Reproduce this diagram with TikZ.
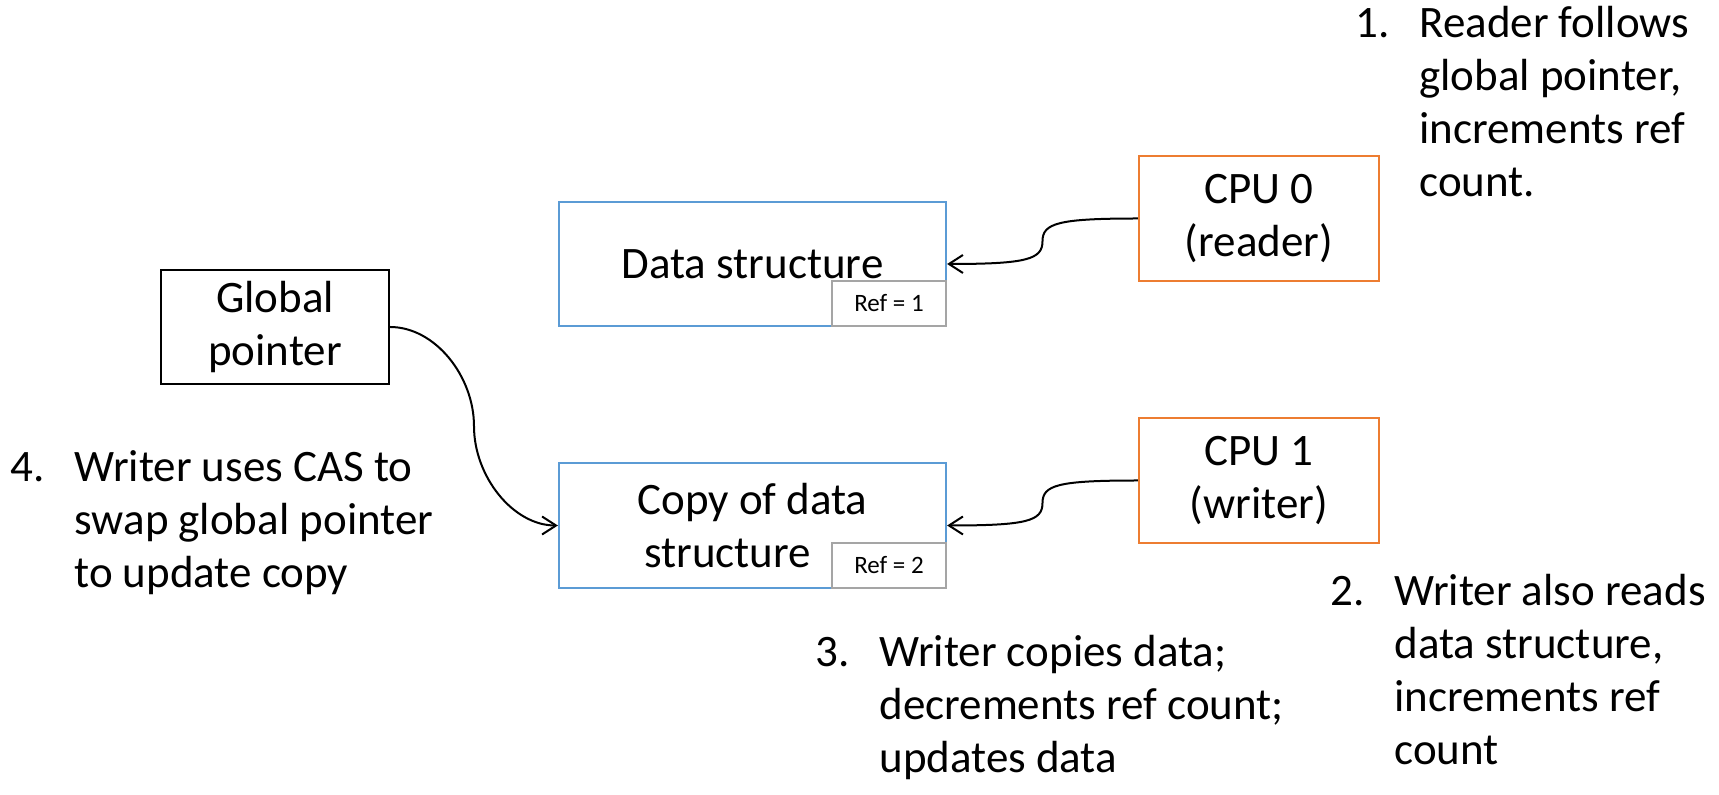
\documentclass[tikz,border=0pt]{standalone}
\usepackage{fontspec}
\setmainfont{Carlito}
\usetikzlibrary{arrows.meta,calc}
\definecolor{boxblue}{HTML}{5B9BD5}
\definecolor{boxorange}{HTML}{ED7D31}
\definecolor{refgray}{HTML}{A5A5A5}
\begin{document}
\begin{tikzpicture}[x=0.5pt,y=-0.5pt,
  box/.style={draw, line width=1.1pt, inner sep=0pt, align=center, font=\fontsize{22.5}{26.5}\selectfont},
  dsbox/.style={box, draw=boxblue, minimum width=193.5pt, minimum height=62pt},
  refbox/.style={draw=refgray, fill=white, line width=1.1pt, minimum width=57pt, minimum height=22.5pt, inner sep=0pt, font=\fontsize{12.5}{14}\selectfont},
  cpubox/.style={box, draw=boxorange, minimum width=120pt, minimum height=62.5pt},
  gpbox/.style={box, draw=black, minimum width=114pt, minimum height=57pt},
  conn/.style={line width=1pt, -{Straight Barb[length=7pt,width=9pt]}},
  listtext/.style={anchor=base west, inner sep=0pt, font=\fontsize{22.5}{26.5}\selectfont}]
\useasboundingbox (0,0) rectangle (1719,795);

\node[dsbox] (ds) at (752.5,264) {Data structure};
\node[refbox] (ref1) at (889,303.5) {Ref = 1};
\node[dsbox, minimum height=62.5pt] (copy) at (752.5,525.5) {Copy of data\\structure\hspace*{25pt}};
\node[refbox] (ref2) at (889,565.5) {Ref = 2};
\node[cpubox] (cpu0) at (1259,218.5) {CPU 0\\(reader)};
\node[cpubox] (cpu1) at (1259,480.5) {CPU 1\\(writer)};
\node[gpbox] (gp) at (275,327) {Global\\pointer};

\coordinate (m0) at ($(cpu0.west)!0.5!(ds.east)$);
\coordinate (m1) at ($(cpu1.west)!0.5!(copy.east)$);
\coordinate (m2) at ($(gp.east)!0.5!(copy.west)$);
\draw[conn] (cpu0.west) .. controls +(-80,0) and +(0,-18) .. (m0) .. controls +(0,18) and +(80,0) .. (ds.east);
\draw[conn] (cpu1.west) .. controls +(-80,0) and +(0,-18) .. (m1) .. controls +(0,18) and +(80,0) .. (copy.east);
\draw[conn] (gp.east) .. controls +(45,0) and +(0,-50) .. (m2) .. controls +(0,50) and +(-45,0) .. (copy.west);

\node[listtext] (t1) at (1355,38) {\begin{tabular}[t]{@{}p{32pt}@{}l@{}}1.&Reader follows\\&global pointer,\\&increments ref\\&count.\end{tabular}};
\node[listtext] (t2) at (1330,606) {\begin{tabular}[t]{@{}p{32pt}@{}l@{}}2.&Writer also reads\\&data structure,\\&increments ref\\&count\end{tabular}};
\node[listtext] (t3) at (815,667) {\begin{tabular}[t]{@{}p{32pt}@{}l@{}}3.&Writer copies data;\\&decrements ref count;\\&updates data\end{tabular}};
\node[listtext] (t4) at (10,482) {\begin{tabular}[t]{@{}p{32pt}@{}l@{}}4.&Writer uses CAS to\\&swap global pointer\\&to update copy\end{tabular}};
\end{tikzpicture}
\end{document}
